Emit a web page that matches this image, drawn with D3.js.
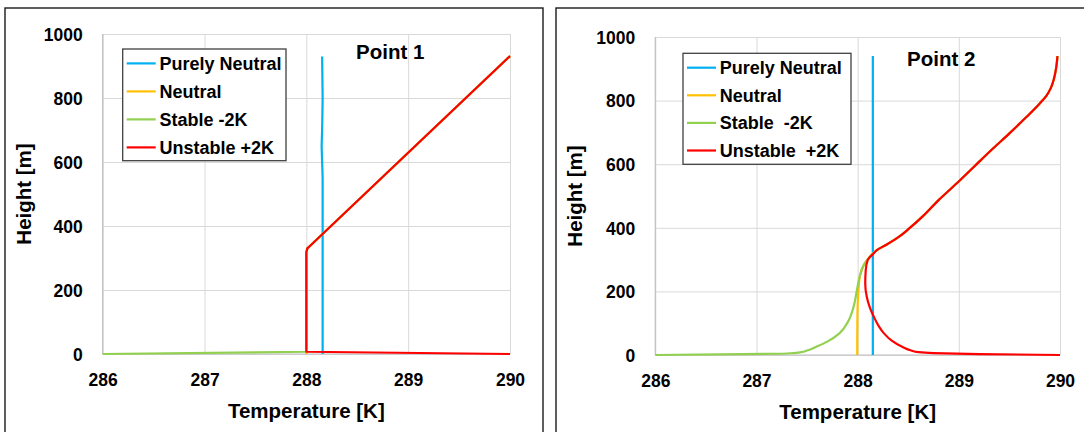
<!DOCTYPE html>
<html>
<head>
<meta charset="utf-8">
<script src="https://cdn.jsdelivr.net/npm/d3@7"></script>
<style>
  body { margin: 0; background: #fff; }
  svg { display: block; }
  text { font-family: "Liberation Sans", Arial, sans-serif; font-weight: bold; fill: #000; white-space: pre; }
</style>
</head>
<body>
<svg id="chart" width="1084" height="432"></svg>
<script>
// ---- shared axis settings ----
const xTicks = [286, 287, 288, 289, 290];
const yTicks = [0, 200, 400, 600, 800, 1000];
const seriesColors = ["#00b0f0", "#ffc000", "#92d050", "#ff0000"];

// ---- Point 1: temperature [K] vs height [m] ----
const p1Names = ["Purely Neutral", "Neutral", "Stable -2K", "Unstable +2K"];
const p1PurelyNeutralH = [0, 100, 200, 300, 400, 500, 550, 600, 650, 700, 800, 930];
const p1PurelyNeutralT = [288.16, 288.16, 288.16, 288.16, 288.16, 288.16, 288.16, 288.155, 288.15, 288.155, 288.16, 288.155];
const p1NeutralH = [0, 7, 300, 318, 330, 336, 931];
const p1NeutralT = [288.0, 288.0, 288.0, 288.0, 288.01, 288.03, 290.0];
const p1StableH = [0, 7, 300, 318, 330, 336, 931];
const p1StableT = [286.0, 288.0, 288.0, 288.0, 288.01, 288.03, 290.0];
const p1UnstableH = [0, 7, 300, 318, 330, 336, 931];
const p1UnstableT = [290.0, 288.0, 288.0, 288.0, 288.01, 288.03, 290.0];

// ---- Point 2: temperature [K] vs height [m] ----
const p2Names = ["Purely Neutral", "Neutral", "Stable  -2K", "Unstable  +2K"];
const p2PurelyNeutralH = [0, 940];
const p2PurelyNeutralT = [288.15, 288.15];
// common profile above ~330 m, shared by the three forced cases
const p2UpperH = [330, 346, 372, 398, 435, 487, 540, 592, 650, 697, 749, 791, 815, 840, 865, 890, 915, 940];
const p2UpperT = [288.19, 288.28, 288.41, 288.51, 288.64, 288.80, 288.98, 289.15, 289.34, 289.50, 289.67, 289.80, 289.865, 289.91, 289.937, 289.955, 289.967, 289.975];
const p2NeutralH = [0, 60, 130, 190, 230, 246, 288, 309];
const p2NeutralT = [287.996, 287.996, 287.998, 288.005, 288.015, 288.02, 288.07, 288.12];
const p2StableH = [0, 4, 6, 9, 14, 26, 42, 68, 105, 152, 199, 246, 288, 309];
const p2StableT = [286.0, 287.25, 287.36, 287.44, 287.50, 287.59, 287.70, 287.82, 287.905, 287.96, 287.99, 288.02, 288.07, 288.12];
const p2UnstableH = [0, 3, 6, 9, 14, 26, 47, 68, 90, 120, 150, 183, 225, 267, 299, 320];
const p2UnstableT = [290.0, 289.2, 288.75, 288.6, 288.53, 288.44, 288.33, 288.26, 288.21, 288.16, 288.12, 288.09, 288.075, 288.08, 288.10, 288.16];

const zip = (h, t) => h.map((v, i) => ({ h: v, t: t[i] }));

const panels = [
  {
    title: "Point 1",
    names: p1Names,
    curve: d3.curveLinear,
    series: [
      zip(p1PurelyNeutralH, p1PurelyNeutralT),
      zip(p1NeutralH, p1NeutralT),
      zip(p1StableH, p1StableT),
      zip(p1UnstableH, p1UnstableT)
    ],
    frameX: 5, frameW: 538,
    plot: { left: 102.7, right: 510, top: 34, bottom: 354 },
    legend: { x: 122.7, y: 49, w: 163.3, h: 111.7, step: 28 },
    titleX: 356, titleY: 58.5,
    yTitleX: 30.5
  },
  {
    title: "Point 2",
    names: p2Names,
    curve: d3.curveMonotoneY,
    series: [
      zip(p2PurelyNeutralH, p2PurelyNeutralT),
      zip(p2NeutralH, p2NeutralT).concat(zip(p2UpperH, p2UpperT)),
      zip(p2StableH, p2StableT).concat(zip(p2UpperH, p2UpperT)),
      zip(p2UnstableH, p2UnstableT).concat(zip(p2UpperH, p2UpperT))
    ],
    frameX: 556, frameW: 600,
    plot: { left: 655.3, right: 1060, top: 37, bottom: 355 },
    legend: { x: 683, y: 53.3, w: 168, h: 111, step: 27.6 },
    titleX: 907, titleY: 65.5,
    yTitleX: 582
  }
];

const svg = d3.select("#chart");

panels.forEach(p => {
  const g = svg.append("g");

  // outer frame of the panel
  g.append("rect")
    .attr("x", p.frameX).attr("y", 8)
    .attr("width", p.frameW).attr("height", 460)
    .attr("fill", "none").attr("stroke", "#1a1a1a").attr("stroke-width", 1.4);

  const x = d3.scaleLinear().domain([286, 290]).range([p.plot.left, p.plot.right]);
  const y = d3.scaleLinear().domain([0, 1000]).range([p.plot.bottom, p.plot.top]);
  const w = p.plot.right - p.plot.left;
  const h = p.plot.bottom - p.plot.top;

  // gridlines
  const gx = g.append("g").attr("transform", `translate(0,${p.plot.bottom})`)
    .call(d3.axisBottom(x).tickValues(xTicks).tickSize(-h).tickFormat(""));
  const gy = g.append("g").attr("transform", `translate(${p.plot.left},0)`)
    .call(d3.axisLeft(y).tickValues(yTicks).tickSize(-w).tickFormat(""));
  [gx, gy].forEach(a => {
    a.select(".domain").remove();
    a.selectAll("line").attr("stroke", "#d9d9d9").attr("stroke-width", 1);
  });

  // axis lines
  g.append("line").attr("x1", p.plot.left).attr("x2", p.plot.left)
    .attr("y1", p.plot.top).attr("y2", p.plot.bottom)
    .attr("stroke", "#bfbfbf").attr("stroke-width", 1.2);
  g.append("line").attr("x1", p.plot.left).attr("x2", p.plot.right)
    .attr("y1", p.plot.bottom).attr("y2", p.plot.bottom)
    .attr("stroke", "#bfbfbf").attr("stroke-width", 1.2);

  // tick labels
  const xl = g.append("g").attr("transform", `translate(0,${p.plot.bottom})`)
    .call(d3.axisBottom(x).tickValues(xTicks).tickSize(0).tickPadding(20).tickFormat(d3.format("d")));
  const yl = g.append("g").attr("transform", `translate(${p.plot.left},0)`)
    .call(d3.axisLeft(y).tickValues(yTicks).tickSize(0).tickPadding(20).tickFormat(d3.format("d")));
  [xl, yl].forEach(a => {
    a.select(".domain").remove();
    a.selectAll("text").attr("font-size", 17.5)
      .style("font-family", "'Liberation Sans', Arial, sans-serif")
      .style("font-weight", "bold").attr("fill", "#000");
  });
  xl.selectAll("text").attr("dy", "0.71em");
  yl.selectAll("text").attr("dy", "0.36em");

  // profiles
  const line = d3.line().x(d => x(d.t)).y(d => y(d.h)).curve(p.curve);
  p.series.forEach((s, i) => {
    g.append("path").datum(s)
      .attr("d", line)
      .attr("fill", "none")
      .attr("stroke", seriesColors[i])
      .attr("stroke-width", 2.2)
      .attr("stroke-linejoin", "round");
  });

  // axis titles
  g.append("text")
    .attr("x", (p.plot.left + p.plot.right) / 2).attr("y", p.plot.bottom + 64)
    .attr("text-anchor", "middle").attr("font-size", 20.5)
    .text("Temperature [K]");
  g.append("text")
    .attr("transform", `translate(${p.yTitleX},${(p.plot.top + p.plot.bottom) / 2}) rotate(-90)`)
    .attr("text-anchor", "middle").attr("font-size", 20.5)
    .text("Height [m]");

  // panel title
  g.append("text")
    .attr("x", p.titleX).attr("y", p.titleY)
    .attr("font-size", 20.5)
    .text(p.title);

  // legend
  const L = p.legend;
  const lg = g.append("g");
  lg.append("rect").attr("x", L.x).attr("y", L.y).attr("width", L.w).attr("height", L.h)
    .attr("fill", "#fff").attr("stroke", "#404040").attr("stroke-width", 1.3);
  p.names.forEach((name, i) => {
    const cy = L.y + 14.4 + i * L.step;
    lg.append("line").attr("x1", L.x + 4).attr("x2", L.x + 33)
      .attr("y1", cy).attr("y2", cy)
      .attr("stroke", seriesColors[i]).attr("stroke-width", 2.2);
    lg.append("text").attr("x", L.x + 36.8).attr("y", cy + 6.5)
      .attr("font-size", 18).text(name);
  });
});
</script>
</body>
</html>
